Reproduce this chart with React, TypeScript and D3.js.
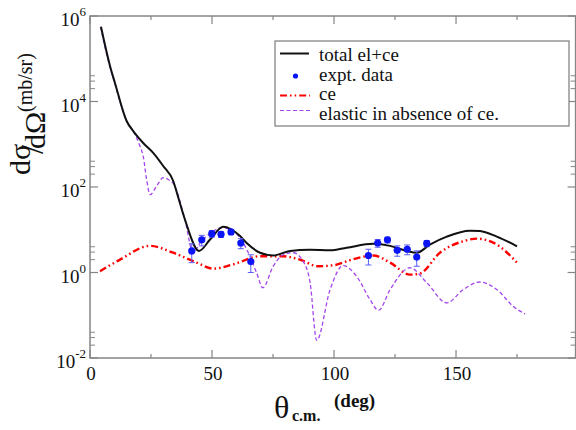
import React, { useEffect, useState } from 'react';
import * as d3 from 'd3';

// total el+ce (black)
const totalTheta = [4.5, 8.2, 10.2, 15.0, 17.8, 21.8, 25.9, 30.0, 34.1, 36.2, 38.9, 44.7, 49.2, 54.6, 61.5, 64.2, 69.7, 75.1, 82, 90, 98.4, 105.2, 116.1, 123, 129.8, 133.9, 139.3, 146.2, 155.7, 159.8, 166.7, 175];
const totalVal = [5.6e5, 6.8e4, 2.75e4, 3.5e3, 2.0e3, 1.07e3, 630, 310, 138, 56, 17.4, 3.2, 5.9, 11.7, 7.1, 4.9, 2.9, 2.5, 3.2, 3.4, 3.3, 3.8, 4.7, 4.2, 3.2, 2.9, 4.5, 6.9, 9.5, 9.3, 6.9, 4.1];

// ce (red dash-dot)
const ceTheta = [4.1, 12.3, 24.6, 34.1, 43.7, 50.5, 58.7, 69.7, 79, 86, 93.5, 100.5, 106, 116.1, 123, 131.1, 135.2, 143.4, 153, 158.5, 166.7, 175];
const ceVal = [1.07, 2.0, 4.2, 2.9, 1.7, 1.23, 1.55, 2.4, 2.4, 2.0, 1.4, 1.5, 1.9, 2.5, 1.7, 0.89, 0.95, 2.9, 5.4, 6.2, 4.5, 1.7];

// elastic in absence of ce (purple dashed)
const elTheta = [4.3, 8.2, 10.2, 15.0, 17.8, 20.5, 21.8, 23.2, 24.6, 27.3, 30.0, 32.1, 34.5, 38.9, 42.3, 45.1, 49.9, 54, 58.7, 64.2, 68.3, 70.8, 75.1, 79.2, 83.3, 87.4, 90.2, 92.9, 98.4, 103.8, 109.3, 114.8, 118.2, 123, 131.1, 138, 146.2, 153, 159.8, 166.7, 173.5, 178.3];
const elVal = [5.6e5, 6.3e4, 2.6e4, 3.5e3, 2.0e3, 890, 525, 150, 66, 105, 166, 150, 112, 17.4, 2.9, 4.9, 8.7, 11.2, 9.3, 3.5, 0.98, 0.44, 1.41, 2.6, 2.9, 1.8, 0.58, 0.026, 0.40, 1.45, 0.81, 0.23, 0.13, 0.40, 1.29, 0.58, 0.195, 0.40, 0.60, 0.40, 0.16, 0.107];

// expt. data
const dataTheta = [41.7, 45.8, 49.9, 53.7, 57.8, 61.8, 65.9, 114.1, 117.9, 121.9, 125.9, 130, 133.9, 138];
const dataVal = [3.2, 5.8, 8.1, 7.8, 8.9, 4.9, 1.8, 2.5, 4.9, 5.8, 3.3, 3.5, 2.3, 4.8];
const dataErr = [1.5, 1.6, 1.4, 1.2, 1.2, 1.3, 0.8, 1.0, 1.0, 0.9, 0.9, 0.9, 0.9, 0.8];

const xMajor = [0, 50, 100, 150];
const xMinor = [25, 75, 125, 175];
const yMajorExp = [-2, 0, 2, 4, 6];
const yMinorExp = [-2, 0, 2, 4];
const yMinorMult = [2, 3, 4];

const legendLabels = ['total el+ce', 'expt. data', 'ce', 'elastic in absence of ce.'];

const W = 576;
const H = 430;
const FAMILY = "'Liberation Serif', 'DejaVu Serif', serif";
const frameColor = '#858585';

const x = d3.scaleLinear().domain([0, 199]).range([90, 575.6]);
const y = d3.scaleLog().domain([1e-2, 1e6]).range([358, 16]);

const zip = (a: number[], b: number[]) => a.map((t, i) => [t, b[i]] as [number, number]);

const lineGen = d3.line<[number, number]>()
  .x(d => x(d[0]))
  .y(d => y(d[1]))
  .curve(d3.curveMonotoneX);

const T = (props: any) => (
  <text fill="#111" {...props} style={{ fontFamily: FAMILY }} />
);

const App = () => {
  const [x0, x1] = x.range();
  const [yB, yT] = y.range();
  const minorY = yMinorExp.flatMap(e => yMinorMult.map(m => m * Math.pow(10, e)));

  // re-layout the text once the fonts are ready
  const [fontKey, setFontKey] = useState(0);
  useEffect(() => {
    document.body.style.fontFamily = FAMILY;
    if ((document as any).fonts) {
      (document as any).fonts.load("19px 'Liberation Serif'").then(() => setFontKey(1)).catch(() => {});
    }
  }, []);

  return (
    <svg key={fontKey} width={W} height={H} style={{ position: 'absolute', left: 0, top: 0, fontFamily: FAMILY }}>
      <style>{`text { font-family: 'Liberation Serif', 'DejaVu Serif', serif; }`}</style>
      {/* frame */}
      <rect x={x0} y={yT} width={x1 - x0} height={yB - yT} fill="none" stroke={frameColor} strokeWidth={1.5} />

      {/* x ticks */}
      {xMajor.map(t => (
        <g key={'xm' + t}>
          <line x1={x(t)} x2={x(t)} y1={yB} y2={yB - 8} stroke={frameColor} strokeWidth={1.2} />
          <line x1={x(t)} x2={x(t)} y1={yT} y2={yT + 8} stroke={frameColor} strokeWidth={1.2} />
          <T x={x(t) + 1} y={380} textAnchor="middle" fontSize={19}>{t}</T>
        </g>
      ))}
      {xMinor.map(t => (
        <g key={'xn' + t}>
          <line x1={x(t)} x2={x(t)} y1={yB} y2={yB - 4} stroke={frameColor} strokeWidth={1.2} />
          <line x1={x(t)} x2={x(t)} y1={yT} y2={yT + 4} stroke={frameColor} strokeWidth={1.2} />
        </g>
      ))}

      {/* y ticks */}
      {yMajorExp.map(e => {
        const v = Math.pow(10, e);
        return (
          <g key={'ym' + e}>
            <line x1={x0} x2={x0 + 8} y1={y(v)} y2={y(v)} stroke={frameColor} strokeWidth={1.2} />
            <line x1={x1} x2={x1 - 8} y1={y(v)} y2={y(v)} stroke={frameColor} strokeWidth={1.2} />
            <T x={86} y={y(v) + 10} textAnchor="end" fontSize={19}>
              10<tspan fontSize={13} dy={-10}>{e < 0 ? '-' + (-e) : e}</tspan>
            </T>
          </g>
        );
      })}
      {minorY.map(v => (
        <g key={'yn' + v}>
          <line x1={x0} x2={x0 + 5} y1={y(v)} y2={y(v)} stroke={frameColor} strokeWidth={1} />
          <line x1={x1} x2={x1 - 5} y1={y(v)} y2={y(v)} stroke={frameColor} strokeWidth={1} />
        </g>
      ))}

      {/* curves */}
      <path d={lineGen(zip(ceTheta, ceVal)) || ''} fill="none" stroke="#ff0000" strokeWidth={2.4} strokeDasharray="7 3 1.6 3 1.6 3" />
      <path d={lineGen(zip(elTheta, elVal)) || ''} fill="none" stroke="#a445ee" strokeWidth={1.3} strokeDasharray="4 2.5" />
      <path d={lineGen(zip(totalTheta, totalVal)) || ''} fill="none" stroke="#111" strokeWidth={2} />

      {/* data with error bars */}
      {dataTheta.map((t, i) => {
        const cx = x(t);
        const lo = y(dataVal[i] - dataErr[i]);
        const hi = y(dataVal[i] + dataErr[i]);
        return (
          <g key={'d' + i}>
            <line x1={cx} x2={cx} y1={lo} y2={hi} stroke="#5b5bf5" strokeWidth={1} />
            <line x1={cx - 3} x2={cx + 3} y1={lo} y2={lo} stroke="#5b5bf5" strokeWidth={1} />
            <line x1={cx - 3} x2={cx + 3} y1={hi} y2={hi} stroke="#5b5bf5" strokeWidth={1} />
            <circle cx={cx} cy={y(dataVal[i])} r={3.6} fill="#0a14f5" />
          </g>
        );
      })}

      {/* legend */}
      <rect x={275} y={41} width={294} height={85} fill="white" stroke={frameColor} strokeWidth={1.3} />
      <line x1={280} x2={309} y1={53.5} y2={53.5} stroke="#111" strokeWidth={2} />
      <circle cx={295.5} cy={76} r={2.6} fill="#0a14f5" />
      <line x1={280} x2={310} y1={95.5} y2={95.5} stroke="#ff0000" strokeWidth={2} strokeDasharray="7 3 1.6 3 1.6 3" />
      <line x1={280} x2={310} y1={110.5} y2={110.5} stroke="#a445ee" strokeWidth={1.1} strokeDasharray="4 2.5" />
      {legendLabels.map((l, i) => (
        <T key={l} x={319} y={61 + i * 19.6} fontSize={19}>{l}</T>
      ))}

      {/* y label */}
      <g transform="translate(38, 175) rotate(-90)">
        <T x={0} y={-8} fontSize={30}>dσ</T>
        <T x={21} y={5} fontSize={32}>/</T>
        <T x={26} y={7} fontSize={30}>dΩ</T>
        <T x={63} y={-6} fontSize={20}>(mb/sr)</T>
      </g>

      {/* x label */}
      <T x={274} y={418} fontSize={32}>θ</T>
      <T x={292} y={421} fontSize={16} fontWeight="bold">c.m.</T>
      <T x={334} y={407} fontSize={19} fontWeight="bold">(deg)</T>
    </svg>
  );
};

export default App;
